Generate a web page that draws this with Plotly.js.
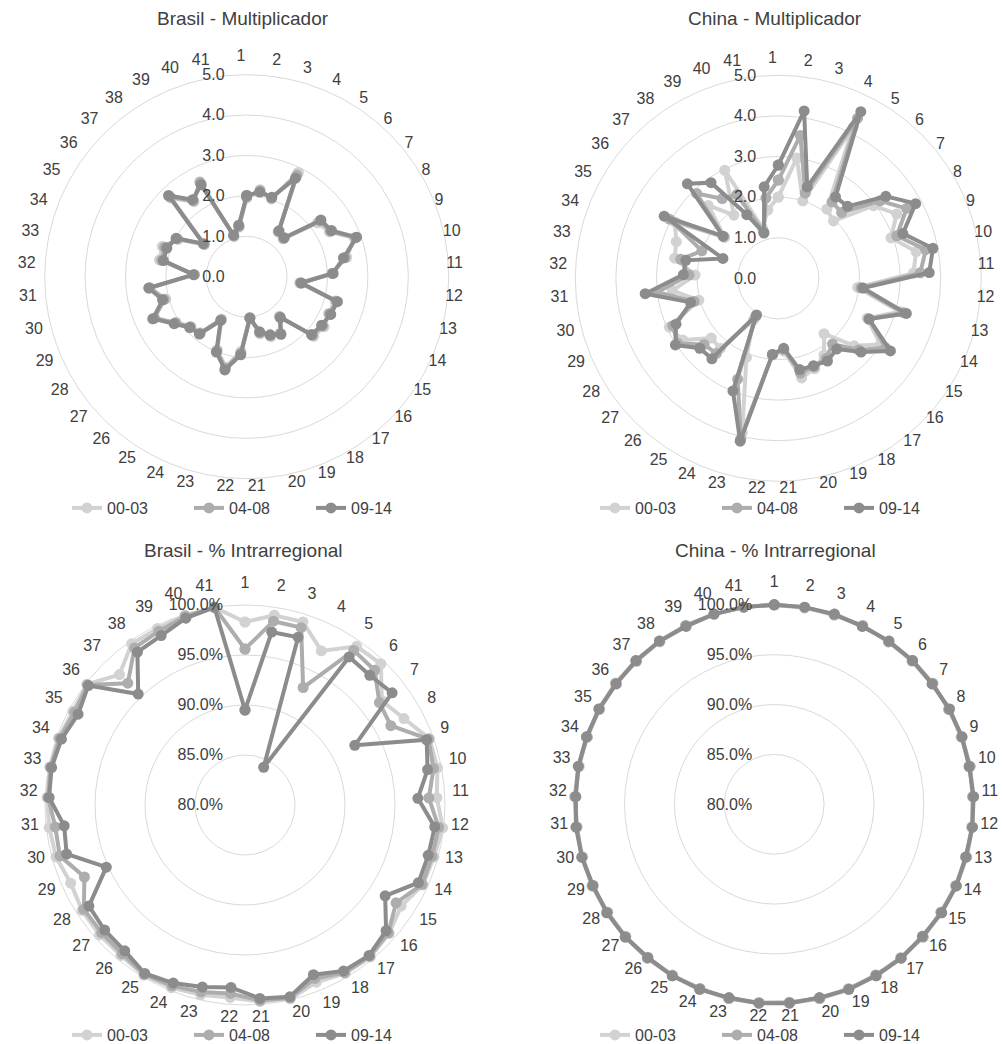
<!DOCTYPE html>
<html>
<head>
<meta charset="utf-8">
<script src="https://cdn.plot.ly/plotly-3.0.1.min.js"></script>
<style>
html,body{margin:0;padding:0;background:#fff;}
#chart{width:1002px;height:1044px;}
</style>
</head>
<body>
<div id="chart"></div>
<script>
const categories = ['1','2','3','4','5','6','7','8','9','10','11','12','13','14','15','16','17','18','19','20','21','22','23','24','25','26','27','28','29','30','31','32','33','34','35','36','37','38','39','40','41'];
const seriesNames = ['00-03','04-08','09-14'];

// Brasil - Multiplicador
const brMult0003 = [1.95,2.18,2.02,2.88,1.35,1.30,2.20,2.33,2.83,2.52,2.10,1.32,2.27,2.22,2.28,2.22,1.27,1.62,1.60,1.45,1.01,1.86,2.30,1.95,1.22,1.80,1.85,2.08,2.56,2.08,2.40,1.29,2.20,2.22,1.93,1.31,2.70,2.27,2.62,1.04,1.24];
const brMult0408 = [1.98,2.15,2.04,2.80,1.37,1.32,2.28,2.36,2.86,2.48,2.12,1.34,2.30,2.25,2.24,2.18,1.29,1.64,1.57,1.42,1.02,1.90,2.33,1.98,1.24,1.82,1.87,2.10,2.50,2.12,2.42,1.30,2.14,2.16,1.96,1.33,2.74,2.30,2.60,1.06,1.26];
const brMult0914 = [2.01,2.12,2.06,2.72,1.39,1.34,2.31,2.39,2.89,2.44,2.14,1.36,2.33,2.28,2.21,2.15,1.31,1.66,1.55,1.40,1.03,1.94,2.37,2.01,1.26,1.84,1.89,2.14,2.54,2.16,2.44,1.32,2.10,2.10,1.99,1.35,2.79,2.33,2.54,1.08,1.29];

// China - Multiplicador
const cnMult0003 = [2.00,3.00,2.00,4.15,2.08,1.96,2.95,3.32,2.95,3.46,3.33,1.97,3.10,2.40,3.00,2.50,1.77,2.20,2.40,2.52,1.80,1.90,3.90,2.10,1.20,2.24,2.21,2.80,2.94,2.03,2.63,2.05,2.60,2.67,2.90,1.66,2.49,1.90,2.97,1.30,1.70];
const cnMult0408 = [2.42,3.56,2.20,4.40,2.30,2.25,3.15,3.60,3.10,3.70,3.50,2.05,3.20,2.45,3.15,2.65,2.10,2.30,2.35,2.40,1.75,1.88,4.05,2.68,1.10,2.40,2.45,2.95,2.85,2.15,3.00,2.20,2.45,2.00,3.05,1.70,2.90,2.40,2.30,1.20,2.00];
const cnMult0914 = [2.79,4.17,2.36,4.58,2.45,2.46,3.33,3.85,3.26,3.88,3.72,2.10,3.27,2.45,3.29,2.73,2.26,2.37,2.32,2.31,1.73,1.88,4.12,2.99,1.05,2.57,2.59,3.02,2.76,2.24,3.30,2.34,2.32,1.45,3.20,1.71,3.23,2.88,1.75,1.17,2.28];

// Brasil - % Intrarregional
const brIntra0003 = [0.983,0.992,0.992,0.972,0.994,0.996,0.972,0.981,0.996,0.996,0.992,0.999,0.996,0.995,0.986,0.993,0.997,0.996,0.991,0.999,0.997,0.993,0.995,0.997,0.998,0.995,0.995,0.994,0.991,0.996,0.997,0.998,0.999,0.998,0.996,0.999,0.981,0.997,0.997,0.999,1.000];
const brIntra0408 = [0.956,0.986,0.986,0.931,0.989,0.987,0.969,0.966,0.995,0.992,0.984,0.995,0.994,0.994,0.980,0.992,0.996,0.995,0.987,0.998,0.996,0.989,0.992,0.995,0.997,0.993,0.992,0.992,0.976,0.992,0.991,0.997,0.998,0.997,0.994,0.998,0.969,0.992,0.994,0.998,1.000];
const brIntra0914 = [0.895,0.975,0.976,0.842,0.981,0.980,0.985,0.925,0.993,0.986,0.973,0.991,0.990,0.990,0.967,0.989,0.995,0.993,0.983,0.997,0.994,0.983,0.987,0.992,0.996,0.989,0.988,0.986,0.952,0.985,0.982,0.996,0.997,0.995,0.990,0.997,0.954,0.987,0.989,0.996,1.000];

// China - % Intrarregional
const cnIntra0003 = [1.000,0.999,1.000,0.999,1.000,0.999,0.999,1.000,0.999,1.000,1.000,0.999,1.000,0.999,1.000,1.000,0.999,1.000,0.999,1.000,1.000,0.999,1.000,1.000,0.999,1.000,0.999,1.000,1.000,0.999,1.000,1.000,0.999,1.000,0.999,1.000,1.000,0.999,1.000,1.000,1.000];
const cnIntra0408 = [1.000,1.000,0.999,1.000,0.999,1.000,1.000,0.999,1.000,1.000,0.999,1.000,1.000,1.000,0.999,1.000,1.000,0.999,1.000,1.000,0.999,1.000,1.000,0.999,1.000,1.000,1.000,0.999,1.000,1.000,0.999,1.000,1.000,0.999,1.000,1.000,0.999,1.000,1.000,1.000,1.000];
const cnIntra0914 = [1.000,1.000,1.000,0.999,1.000,1.000,0.999,1.000,1.000,0.999,1.000,1.000,0.999,1.000,1.000,0.999,1.000,1.000,1.000,0.999,1.000,1.000,0.999,1.000,1.000,0.999,1.000,1.000,0.999,1.000,1.000,0.999,1.000,1.000,1.000,0.999,1.000,1.000,0.999,1.000,1.000];

const panelTitles = ['Brasil - Multiplicador','China - Multiplicador','Brasil - % Intrarregional','China - % Intrarregional'];

const colors = ['#d2d2d2','#adadad','#8c8c8c'];
const FONT = 'Liberation Sans, Arial, sans-serif';
const TXT = '#404040';
const W = 1002, H = 1044;

// domain helper: centre (cx, cy) in px from top-left, radius R in px
function dom(cx, cy, R){
  return {x:[(cx-R)/W, (cx+R)/W], y:[1-(cy+R)/H, 1-(cy-R)/H]};
}

const panels = [
  {polar:'polar',  label:'polar5', legend:'legend',  data:[brMult0003,brMult0408,brMult0914]},
  {polar:'polar2', label:'polar6', legend:'legend2', data:[cnMult0003,cnMult0408,cnMult0914]},
  {polar:'polar3', label:'polar7', legend:'legend3', data:[brIntra0003,brIntra0408,brIntra0914]},
  {polar:'polar4', label:'polar8', legend:'legend4', data:[cnIntra0003,cnIntra0408,cnIntra0914]}
];

const traces = [];
panels.forEach(p => {
  p.data.forEach((vals, i) => {
    traces.push({
      type:'scatterpolar',
      mode:'lines+markers',
      r: vals.concat([vals[0]]),
      theta: categories.concat([categories[0]]),
      name: seriesNames[i],
      subplot: p.polar,
      legend: p.legend,
      line:{color:colors[i], width:4},
      marker:{color:colors[i], size:11},
      cliponaxis:false,
      hoverinfo:'skip'
    });
  });
  // invisible carrier for the category labels ring
  traces.push({
    type:'scatterpolar', mode:'none',
    r: p.data[2], theta: categories,
    subplot: p.label, showlegend:false, hoverinfo:'skip'
  });
});

function angularMain(showLine){
  return {
    type:'category', categoryarray: categories, categoryorder:'array',
    rotation:90, direction:'clockwise',
    showgrid:false, showline:showLine, linecolor:'#d9d9d9', linewidth:1,
    ticks:'', showticklabels:false
  };
}
function angularLabels(){
  return {
    type:'category', categoryarray: categories, categoryorder:'array',
    rotation:90, direction:'clockwise',
    showgrid:false, showline:false, ticks:'',
    tickfont:{family:FONT, size:16, color:TXT}
  };
}
function radialHidden(rng){
  return {visible:false, range:rng, showgrid:false, showline:false, showticklabels:false};
}
function radialMult(){
  return {
    range:[0,5], dtick:1, tick0:0, tickformat:'.1f',
    angle:90, side:'counterclockwise', tickangle:90,
    showline:false, ticks:'outside', ticklen:16, tickcolor:'rgba(0,0,0,0)',
    gridcolor:'#d9d9d9', gridwidth:1,
    tickfont:{family:FONT, size:16, color:TXT}
  };
}
function radialIntra(){
  return {
    range:[0.8,1.0035], tickvals:[0.8,0.85,0.9,0.95,1.0], tickformat:'.1%',
    angle:90, side:'counterclockwise', tickangle:90,
    showline:false, ticks:'outside', ticklen:16, tickcolor:'rgba(0,0,0,0)',
    gridcolor:'#d9d9d9', gridwidth:1,
    tickfont:{family:FONT, size:16, color:TXT}
  };
}

function legendAt(x, y){
  return {
    orientation:'h', xref:'container', yref:'container',
    x:x, y:y, xanchor:'center', yanchor:'middle',
    entrywidth:77, entrywidthmode:'pixels',
    font:{family:FONT, size:16, color:TXT},
    bgcolor:'rgba(0,0,0,0)', itemclick:false, itemdoubleclick:false
  };
}

function titleAnn(text, x, y){
  return {text:text, x:x/W, y:1-y/H, xref:'paper', yref:'paper', showarrow:false,
          xanchor:'center', yanchor:'middle', font:{family:FONT,size:19,color:TXT}};
}

const layout = {
  width:W, height:H,
  margin:{l:0,r:0,t:0,b:0, autoexpand:false},
  paper_bgcolor:'#ffffff',
  font:{family:FONT, color:TXT},
  showlegend:true,
  polar: {domain:dom(246.7,276.7,202),   bgcolor:'rgba(0,0,0,0)', angularaxis:angularMain(true),  radialaxis:radialMult()},
  polar2:{domain:dom(778.3,278.3,203),   bgcolor:'rgba(0,0,0,0)', angularaxis:angularMain(true),  radialaxis:radialMult()},
  polar3:{domain:dom(245,805,203.5),     bgcolor:'rgba(0,0,0,0)', angularaxis:angularMain(false), radialaxis:radialIntra()},
  polar4:{domain:dom(774.2,804.3,203),   bgcolor:'rgba(0,0,0,0)', angularaxis:angularMain(false), radialaxis:radialIntra()},
  polar5:{domain:dom(241,270,205),       bgcolor:'rgba(0,0,0,0)', angularaxis:angularLabels(), radialaxis:radialHidden([0,5])},
  polar6:{domain:dom(772.5,271.5,205),   bgcolor:'rgba(0,0,0,0)', angularaxis:angularLabels(), radialaxis:radialHidden([0,5])},
  polar7:{domain:dom(245,798.5,207),     bgcolor:'rgba(0,0,0,0)', angularaxis:angularLabels(), radialaxis:radialHidden([0.8,1.0035])},
  polar8:{domain:dom(774.2,798,207),     bgcolor:'rgba(0,0,0,0)', angularaxis:angularLabels(), radialaxis:radialHidden([0.8,1.0035])},
  legend: legendAt(250/W, 1-508/H),
  legend2:legendAt(778/W, 1-508/H),
  legend3:legendAt(250/W, 1-1035/H),
  legend4:legendAt(778/W, 1-1035/H),
  annotations:[
    titleAnn(panelTitles[0], 243, 18),
    titleAnn(panelTitles[1], 775, 18),
    titleAnn(panelTitles[2], 243, 550),
    titleAnn(panelTitles[3], 775, 550)
  ]
};

Plotly.newPlot('chart', traces, layout, {displayModeBar:false, staticPlot:true});
</script>
</body>
</html>
